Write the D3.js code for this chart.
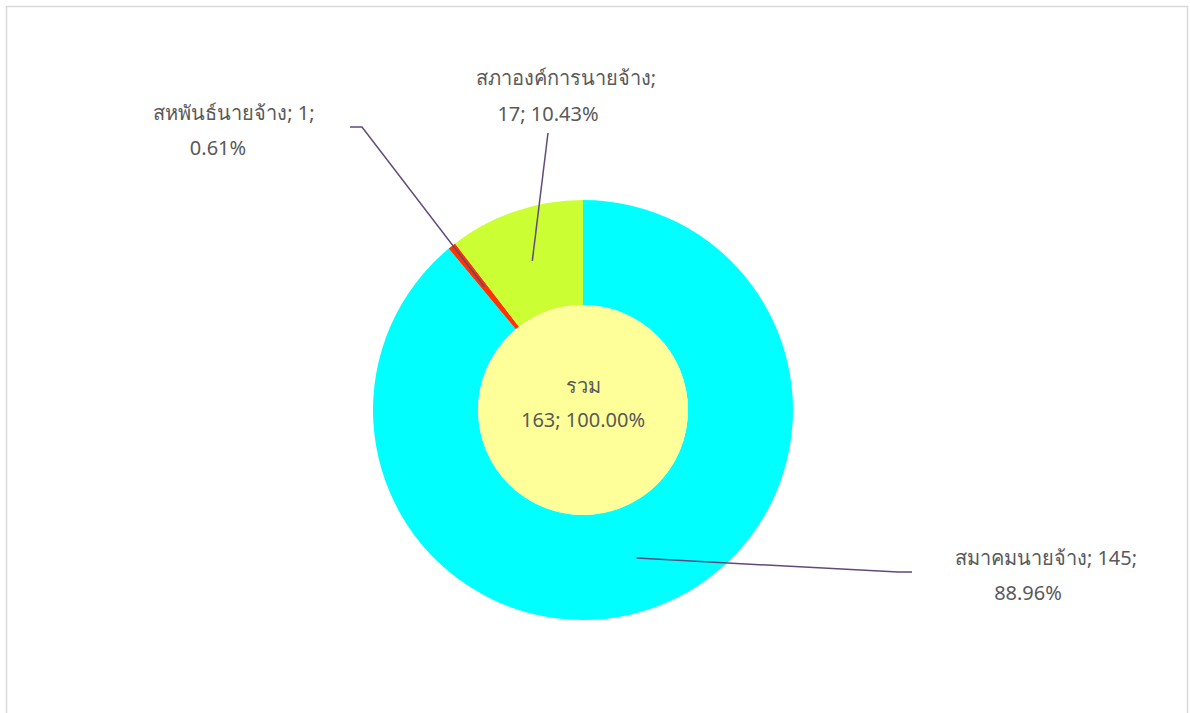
<!DOCTYPE html>
<html>
<head>
<meta charset="utf-8">
<script src="https://cdn.jsdelivr.net/npm/d3@7"></script>
<style>
  html, body { margin: 0; padding: 0; background: #fff; }
  svg { display: block; }
  text { font-family: "Noto Sans", "DejaVu Sans", sans-serif; fill: #595959; font-size: 20px; }
</style>
</head>
<body>
<script>
'use strict';

// chart data
const categories = ["สมาคมนายจ้าง", "สหพันธ์นายจ้าง", "สภาองค์การนายจ้าง"];
const values = [145, 1, 17];
const totalName = "รวม";

// slice colours, same order as categories
const sliceColors = ["#00FFFF", "#FF3300", "#CCFF33"];
const centerColor = "#FFFF99";

(function() {
  const width = 1190, height = 713;
  const cx = 583, cy = 410;
  const rOuter = 210, rInner = 105;

  const total = d3.sum(values);
  const pct = (v) => (v / total * 100).toFixed(2) + "%";

  const svg = d3.select('body').append('svg')
    .attr('width', width)
    .attr('height', height);

  // chart frame (bottom edge runs off the page)
  svg.append('rect')
    .attr('x', 6.5).attr('y', 6.5)
    .attr('width', 1181).attr('height', 720)
    .attr('fill', 'none')
    .attr('stroke', '#d9d9d9')
    .attr('stroke-width', 1.5);

  const g = svg.append('g').attr('transform', `translate(${cx},${cy})`);

  const pie = d3.pie().sort(null).value((d) => d);
  const ring = d3.arc().innerRadius(rInner).outerRadius(rOuter);
  const arcs = pie(values);

  g.selectAll('path.slice')
    .data(arcs)
    .enter()
    .append('path')
      .attr('class', 'slice')
      .attr('d', ring)
      .attr('fill', (d, i) => sliceColors[i]);

  // centre disc = the total
  const disc = d3.arc().innerRadius(0).outerRadius(rInner);
  g.append('path')
    .datum(pie([total])[0])
    .attr('d', disc)
    .attr('fill', centerColor);

  g.append('text')
    .attr('x', 0).attr('y', -17)
    .attr('text-anchor', 'middle')
    .text(totalName);
  g.append('text')
    .attr('x', 0).attr('y', 17)
    .attr('text-anchor', 'middle')
    .text(total + "; " + pct(total));

  // label layout: elbow point of leader, end point, text line centres (page coords)
  const labelLayout = [
    { elbow: [898, 572], end: [912, 572],
      lines: [[1046, 565, categories[0] + "; " + values[0] + ";"], [1028, 600, pct(values[0])]] },
    { elbow: [362, 127], end: [350, 127],
      lines: [[234, 120, categories[1] + "; " + values[1] + ";"], [218, 155, pct(values[1])]] },
    { elbow: null, end: [548, 133],
      lines: [[566, 85, categories[2] + ";"], [548, 121, values[2] + "; " + pct(values[2])]] }
  ];

  const line = d3.line();

  arcs.forEach((a, i) => {
    const c = ring.centroid(a);
    const lay = labelLayout[i];
    const pts = [[cx + c[0], cy + c[1]]];
    if (lay.elbow) pts.push(lay.elbow);
    pts.push(lay.end);

    svg.append('path')
      .attr('d', line(pts))
      .attr('fill', 'none')
      .attr('stroke', '#604A7B')
      .attr('stroke-width', 1.5);

    lay.lines.forEach((l) => {
      svg.append('text')
        .attr('x', l[0]).attr('y', l[1])
        .attr('text-anchor', 'middle')
        .text(l[2]);
    });
  });
})();
</script>
</body>
</html>
